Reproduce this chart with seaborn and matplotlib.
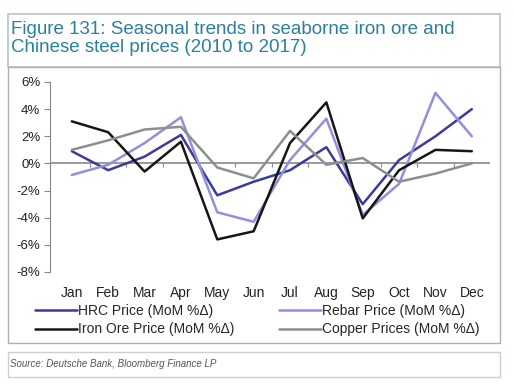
import pandas as pd
import matplotlib.pyplot as plt
import matplotlib.patches as mpatches
import seaborn as sns

months = ["Jan", "Feb", "Mar", "Apr", "May", "Jun", "Jul", "Aug", "Sep", "Oct", "Nov", "Dec"]
hrc = [0.9, -0.5, 0.5, 2.1, -2.35, -1.35, -0.5, 1.2, -3.0, 0.25, 2.0, 4.0]
rebar = [-0.85, -0.1, 1.5, 3.4, -3.6, -4.3, 0.25, 3.3, -3.8, -1.5, 5.2, 2.0]
iron_ore = [3.1, 2.3, -0.6, 1.6, -5.6, -5.0, 1.5, 4.5, -4.05, -0.5, 1.0, 0.9]
copper = [1.0, 1.7, 2.5, 2.7, -0.3, -1.1, 2.4, -0.1, 0.4, -1.35, -0.75, 0.0]

names = ["HRC Price (MoM %\u0394)", "Rebar Price (MoM %\u0394)",
         "Iron Ore Price (MoM %\u0394)", "Copper Prices (MoM %\u0394)"]
series = [hrc, rebar, iron_ore, copper]
colors = ["#3b3b9c", "#9090dc", "#161616", "#8e8e8e"]

df = pd.concat([pd.DataFrame({"month": range(12), "value": s, "series": n})
                for n, s in zip(names, series)])

sns.set_style("white")
plt.rcParams['font.family'] = ['Liberation Sans', 'DejaVu Sans']

fig = plt.figure(figsize=(5.14, 3.92), dpi=100)

# frames around title, chart and source
fig.add_artist(mpatches.Rectangle((8 / 514, 1 - 67 / 392), 492 / 514, (67 - 14) / 392,
                                  transform=fig.transFigure, fill=False, ec="#b8c4c8", lw=1.2))
fig.add_artist(mpatches.Rectangle((8 / 514, 1 - 343 / 392), 492 / 514, (343 - 67) / 392,
                                  transform=fig.transFigure, fill=False, ec="#b0b0b0", lw=1.0))
fig.add_artist(mpatches.Rectangle((8 / 514, 1 - 377 / 392), 492 / 514, (377 - 352) / 392,
                                  transform=fig.transFigure, fill=False, ec="#c8d0d0", lw=1.0))

fig.text(11 / 514, 1 - 29 / 392, "Figure 131: Seasonal trends in seaborne iron ore and",
         color="#2b7f9e", fontsize=13.5, va="center")
fig.text(11 / 514, 1 - 47 / 392, "Chinese steel prices (2010 to 2017)",
         color="#2b7f9e", fontsize=13.5, va="center")
fig.text(10 / 514, 1 - 364 / 392, "Source: Deutsche Bank, Bloomberg Finance LP",
         color="#555555", fontsize=7, style="italic", va="center")

ax = fig.add_axes([50 / 514, 1 - 272 / 392, 440 / 514, (272 - 82) / 392])
sns.lineplot(data=df, x="month", y="value", hue="series", palette=colors,
             linewidth=1.8, ax=ax, legend=True)

ax.set_xlim(-0.6, 11.5)
ax.set_ylim(-8, 6)
ax.set_yticks(range(-8, 7, 2))
ax.set_yticklabels([f"{v}%" for v in range(-8, 7, 2)], fontsize=9.5, color="#222222")
ax.set_xticks(range(12))
ax.set_xticklabels(months, fontsize=10, color="#222222")
ax.tick_params(axis="x", length=0, pad=10)
ax.tick_params(axis="y", length=4, color="#888888", direction="out", left=True, pad=3)
ax.set_xlabel("")
ax.set_ylabel("")
for side in ["top", "right", "bottom"]:
    ax.spines[side].set_visible(False)
ax.spines["left"].set_color("#888888")
ax.axhline(0, color="#8a8a8a", lw=1.2, zorder=0)

sec = ax.secondary_xaxis(8 / 14)
sec.set_xticks([i + 0.5 for i in range(11)])
sec.set_xticklabels([])
sec.tick_params(length=3, color="#8a8a8a", direction="in")
sec.spines["bottom"].set_visible(False)
sec.spines["top"].set_visible(False)

handles, labels = ax.get_legend_handles_labels()
order = [0, 2, 1, 3]
ax.legend([handles[i] for i in order], [labels[i] for i in order],
          ncol=2, frameon=False, fontsize=10, loc="upper left",
          bbox_to_anchor=(-0.034, -0.17), borderaxespad=0, borderpad=0,
          handlelength=3.0, handletextpad=0.1, columnspacing=3.2, labelspacing=0.3)

fig.savefig("out.png", dpi=100)
